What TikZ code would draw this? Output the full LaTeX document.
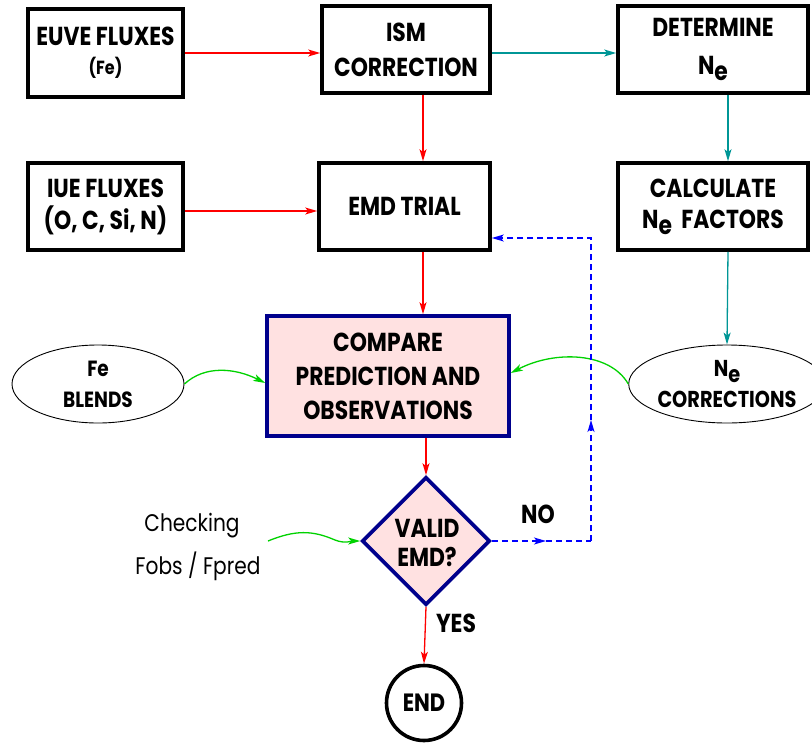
\documentclass[tikz,border=0pt]{standalone}
\usepackage{fontspec}
\setmainfont{Poppins}[FakeStretch=0.84]
\usetikzlibrary{arrows.meta,shapes.geometric}
\definecolor{tealc}{RGB}{0,150,150}
\definecolor{greenc}{RGB}{0,210,0}
\definecolor{navyc}{RGB}{0,0,140}
\definecolor{pinkc}{RGB}{255,225,225}
\newcommand{\Nsube}{N\raisebox{-6pt}{e}}
\begin{document}
\begin{tikzpicture}[x=1pt,y=-1pt,
  tip/.style={-{Stealth[length=12pt,width=7pt,inset=3pt]}},
  blk/.style={draw=black,line width=3.6pt,rectangle,inner sep=0pt,align=center,
    font=\fontsize{26}{35}\selectfont\bfseries},
  oval/.style={draw=black,line width=0.9pt,ellipse,minimum width=172pt,minimum height=78pt,inner sep=0pt,align=center},
  redline/.style={tip,draw=red,line width=1.3pt},
  tealline/.style={tip,draw=tealc,line width=1.3pt},
  greenline/.style={tip,draw=greenc,line width=1.3pt},
  blueline/.style={draw=blue,line width=1.3pt,dash pattern=on 6pt off 4pt},
  lbl/.style={font=\fontsize{26}{26}\selectfont\bfseries,inner sep=0pt}]
\useasboundingbox (0,0) rectangle (812,745);

% boxes
\node[blk,minimum width=155pt,minimum height=88pt] (euve) at (105.5,53)
  {EUVE FLUXES\\[-6pt]{\fontsize{19}{19}\selectfont (Fe)}};
\node[blk,minimum width=168pt,minimum height=87pt] (ism) at (406,49.5) {ISM\\CORRECTION};
\node[blk,minimum width=190pt,minimum height=87pt] (det) at (713,49.5) {DETERMINE\\[3pt]\Nsube};
\node[blk,minimum width=155pt,minimum height=87pt] (iue) at (105.5,206.5) {IUE FLUXES\\[-3pt](O, C, Si, N)};
\node[blk,minimum width=171pt,minimum height=87pt] (emd) at (404.5,206.5) {EMD TRIAL};
\node[blk,minimum width=190pt,minimum height=87pt] (calc) at (713,206.5) {CALCULATE\\[-4pt]\Nsube\ \ FACTORS};
\node[blk,draw=navyc,fill=pinkc,minimum width=242pt,minimum height=120pt] (cmp) at (388,376)
  {COMPARE\\[-1pt]PREDICTION AND\\[-1pt]OBSERVATIONS};

% ellipses
\node[oval] (fe) at (98,384)
  {{\fontsize{22}{22}\selectfont\bfseries Fe}\\[14pt]{\fontsize{22}{22}\selectfont\bfseries BLENDS}};
\node[oval] (nec) at (727,384)
  {{\fontsize{23}{23}\selectfont\bfseries\Nsube}\\[8pt]{\fontsize{23}{23}\selectfont\bfseries CORRECTIONS}};

% decision and end
\node[diamond,aspect=1,draw=navyc,fill=pinkc,line width=3.6pt,minimum width=128pt,minimum height=128pt,inner sep=0pt] (valid) at (426,541) {};
\node[align=center,font=\fontsize{26}{29}\selectfont\bfseries,inner sep=0pt] (validtxt) at (427,543) {VALID\\EMD?};
\node[circle,draw=black,line width=3.6pt,minimum size=75pt,inner sep=0pt,font=\fontsize{25}{25}\selectfont\bfseries] (endn) at (424,703) {END};

% free texts
\node[inner sep=0pt,font=\fontsize{24}{24}\selectfont] (chk) at (192,526) {Checking};
\node[inner sep=0pt,font=\fontsize{24}{24}\selectfont] (fobs) at (198,566) {Fobs / Fpred};
\node[lbl] (no) at (538,514) {NO};
\node[lbl] (yes) at (456,623) {YES};

% lane coordinates
\coordinate (lane) at (423,0);
\coordinate (blane) at (591,0);
\coordinate (chkstart) at (268,541);
\coordinate (noarrow) at (546,541);
\coordinate (uparrow) at (591,420);

% red arrows
\draw[redline] (euve.east) -- (euve.east -| ism.west);
\draw[redline] ([yshift=-4.5pt]iue.east) -- ([yshift=-4.5pt]iue.east -| emd.west);
\draw[redline] (ism.south -| lane) -- (emd.north -| lane);
\draw[redline] (emd.south -| lane) -- (cmp.north -| lane);
\draw[redline] (cmp.south -| valid.north) -- (valid.north);
\draw[redline] (valid.south) -- (endn.north);

% teal arrows
\draw[tealline] ([yshift=-3.5pt]ism.east) -- ([yshift=-3.5pt]ism.east -| det.west);
\draw[tealline] ([xshift=15pt]det.south) -- ([xshift=15pt]calc.north);
\draw[tealline] ([xshift=15pt]calc.south) -- (nec.north);

% green arrows
\draw[greenline] (fe.east) .. controls (205,365) and (235,368) .. ([yshift=-7pt]cmp.west);
\draw[greenline] (nec.west) .. controls (610,352) and (555,350) .. ([yshift=3pt]cmp.east);
\draw[greenline] (chkstart) .. controls (295,530) and (312,530) .. (335,540)
  .. controls (345,544) and (352,541) .. (valid.west);

% blue dashed loop
\draw[blueline,tip] (valid.east) -- (noarrow);
\draw[blueline] (noarrow) -- (valid.east -| blane);
\draw[blueline,tip] (valid.east -| blane) -- (uparrow);
\draw[blueline,tip] (uparrow) -- ([yshift=-31.5pt]emd.east -| blane) -- ([yshift=-31.5pt]emd.east);
\end{tikzpicture}
\end{document}
